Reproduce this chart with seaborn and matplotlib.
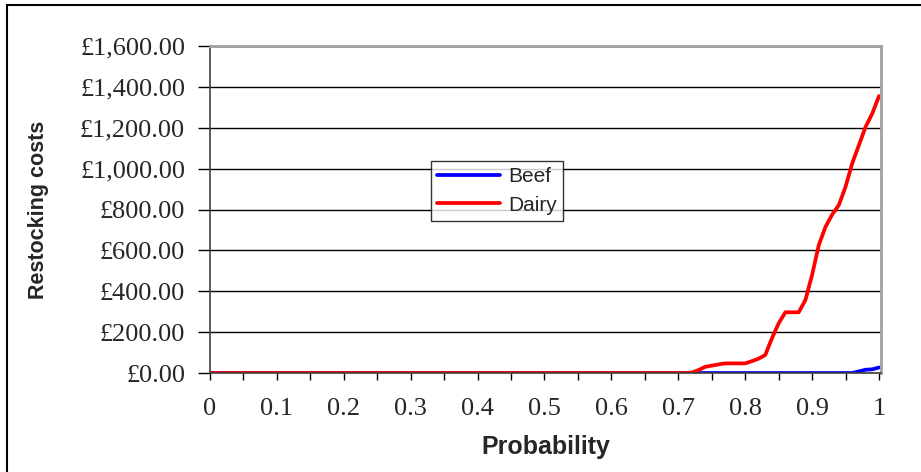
import numpy as np
import pandas as pd
import seaborn as sns
import matplotlib.pyplot as plt
from matplotlib.lines import Line2D
from matplotlib.ticker import FuncFormatter

# probability levels 0.00 .. 1.00 in steps of 0.01
probability = np.round(np.linspace(0, 1, 101), 2)
beef = [0.0] * 97 + [8, 16, 18, 27]
dairy = [0.0] * 72 + [2, 14, 30, 36, 42, 47, 47, 47, 47, 58, 70, 88, 170, 243,
                      297, 297, 297, 357, 480, 626, 715, 775, 822, 911, 1026,
                      1115, 1205, 1270, 1355]
y_ticks = [0, 200, 400, 600, 800, 1000, 1200, 1400, 1600]
x_major = [0, 0.1, 0.2, 0.3, 0.4, 0.5, 0.6, 0.7, 0.8, 0.9, 1]
x_labels = ['0', '0.1', '0.2', '0.3', '0.4', '0.5', '0.6', '0.7', '0.8', '0.9', '1']

df = pd.DataFrame({'Probability': np.concatenate([probability, probability]),
                   'cost': beef + dairy,
                   'series': ['Beef'] * 101 + ['Dairy'] * 101})

sns.set_style('white')
plt.rcParams['font.family'] = ['Liberation Serif', 'DejaVu Serif']

fig = plt.figure(figsize=(9.21, 4.72), dpi=100)
ax = fig.add_axes([210 / 921, 1 - 373 / 472, 671 / 921, 327 / 472])

sns.lineplot(data=df, x='Probability', y='cost', hue='series',
             palette={'Beef': '#0000ff', 'Dairy': '#ff0000'},
             linewidth=2.7, ax=ax, legend=False)

ax.set_xlim(0, 1.003)
ax.set_ylim(0, 1600)
ax.set_yticks(y_ticks)
ax.yaxis.set_major_formatter(FuncFormatter(lambda v, p: '£{:,.2f}'.format(v)))
ax.set_xticks(x_major)
ax.set_xticklabels(x_labels)
ax.set_xticks(np.arange(0.05, 1, 0.1), minor=True)
ax.grid(axis='y', color='black', linewidth=1)
ax.grid(axis='x', visible=False)

ax.tick_params(axis='y', which='major', direction='out', length=9, width=1,
               color='black', labelsize=19, pad=9, left=True)
ax.tick_params(axis='x', which='both', direction='out', length=5, width=1,
               color='black', labelsize=19, pad=13, bottom=True)

for s in ['top', 'right']:
    ax.spines[s].set_color('#a0a0a0')
    ax.spines[s].set_linewidth(2)
for s in ['left', 'bottom']:
    ax.spines[s].set_color('#404040')
    ax.spines[s].set_linewidth(1.2)

ax.set_xlabel('Probability', fontsize=18, fontweight='bold',
              family=['Liberation Sans', 'DejaVu Sans'], labelpad=11)
ax.set_ylabel('Restocking costs', fontsize=15.5, fontweight='bold',
              family=['Liberation Sans', 'DejaVu Sans'], labelpad=22)

handles = [Line2D([], [], color='#0000ff', linewidth=2.7),
           Line2D([], [], color='#ff0000', linewidth=2.7)]
leg = fig.legend(handles, ['Beef', 'Dairy'], loc='upper left',
                 bbox_to_anchor=(431 / 921, 1 - 161 / 472), borderaxespad=0,
                 frameon=True, fancybox=False, handlelength=3.0,
                 handletextpad=0.4, borderpad=0.3, labelspacing=0.45,
                 prop={'family': 'Liberation Sans', 'size': 15})
leg.get_frame().set_edgecolor('black')
leg.get_frame().set_linewidth(1)

# outer chart frame (only top and left edges are visible)
fig.add_artist(Line2D([7 / 921, 7 / 921], [0, 1 - 5 / 472], color='black',
                      linewidth=1.5, transform=fig.transFigure))
fig.add_artist(Line2D([7 / 921, 1], [1 - 5 / 472, 1 - 5 / 472], color='black',
                      linewidth=1.5, transform=fig.transFigure))

fig.savefig('out.png', dpi=100)
